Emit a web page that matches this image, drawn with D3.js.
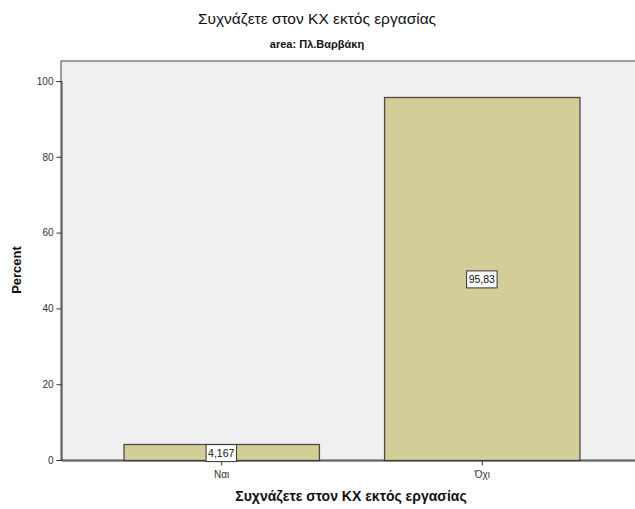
<!DOCTYPE html>
<html><head><meta charset="utf-8">
<script src="https://cdn.jsdelivr.net/npm/d3@7"></script>
<style>body{margin:0;background:#fff}svg{display:block;font-family:"Liberation Sans",Arial,sans-serif}</style>
</head><body><svg id="c" width="635" height="509"></svg>
<script>
const categories = ["Ναι", "Όχι"];
const values = [4.167, 95.83];
const valueLabels = ["4,167", "95,83"];
const yTicks = [0, 20, 40, 60, 80, 100];

const svg = d3.select("#c");
const L = 61, T = 61, R = 642, B = 460;
const x = d3.scaleBand().domain(categories).range([L, R]).paddingInner(0.25).paddingOuter(0.24);
const y = d3.scaleLinear().domain([0, 100]).range([B, 81]);

svg.append("rect").attr("x", L).attr("y", T).attr("width", R - L).attr("height", B - T)
  .attr("fill", "#f0f0f0").attr("stroke", "#444").attr("stroke-width", 1);

svg.selectAll("rect.bar").data(values).enter().append("rect").attr("class", "bar")
  .attr("x", (d, i) => x(categories[i]) + 0.5).attr("width", x.bandwidth())
  .attr("y", d => Math.round(y(d)) + 0.5).attr("height", d => B - Math.round(y(d)))
  .attr("fill", "#d3ce97").attr("stroke", "#4a4a4a").attr("stroke-width", 1.3);

// axes
const ya = d3.axisLeft(y).tickValues(yTicks).tickSize(5).tickFormat(d3.format("d"));
const gy = svg.append("g").attr("transform", `translate(${L + 0.5},0)`).call(ya);
gy.select(".domain").attr("stroke", "#333");
gy.selectAll(".tick line").attr("stroke", "#333");
gy.selectAll(".tick text").attr("font-size", 10).attr("fill", "#333").attr("font-family", "Liberation Sans, Arial, sans-serif");

const xa = d3.axisBottom(x).tickSize(5).tickSizeOuter(0);
const gx = svg.append("g").attr("transform", `translate(0.5,${B + 0.5})`).call(xa);
gx.select(".domain").attr("stroke", "#333");
gx.selectAll(".tick line").attr("stroke", "#333");
gx.selectAll(".tick text").attr("font-size", 10).attr("fill", "#333").attr("dy", "0.9em").attr("font-family", "Liberation Sans, Arial, sans-serif");

// value labels
values.forEach((v, i) => {
  const cx = x(categories[i]) + x.bandwidth() / 2;
  const cy = (y(v) + B) / 2 + 1;
  const g = svg.append("g");
  const t = g.append("text").attr("x", cx).attr("y", cy).attr("text-anchor", "middle")
    .attr("dominant-baseline", "central").attr("font-size", 10.5).attr("fill", "#111").text(valueLabels[i]);
  const bb = t.node().getBBox();
  g.insert("rect", "text").attr("x", bb.x - 2).attr("y", cy - 8.5).attr("width", bb.width + 4).attr("height", 17)
    .attr("fill", "#fff").attr("stroke", "#333").attr("stroke-width", 1);
});

// titles
svg.append("text").attr("x", 317).attr("y", 24).attr("text-anchor", "middle").attr("font-size", 15.5).attr("fill", "#111")
  .text("Συχνάζετε στον ΚΧ εκτός εργασίας");
svg.append("text").attr("x", 317).attr("y", 48).attr("text-anchor", "middle").attr("font-size", 11).attr("font-weight", "bold").attr("fill", "#111")
  .text("area: Πλ.Βαρβάκη");
svg.append("text").attr("x", 351).attr("y", 501).attr("text-anchor", "middle").attr("font-size", 14).attr("font-weight", "bold").attr("fill", "#111")
  .text("Συχνάζετε στον ΚΧ εκτός εργασίας");
svg.append("text").attr("transform", "translate(21,270) rotate(-90)").attr("text-anchor", "middle").attr("font-size", 13).attr("font-weight", "bold").attr("fill", "#111")
  .text("Percent");
</script></body></html>
